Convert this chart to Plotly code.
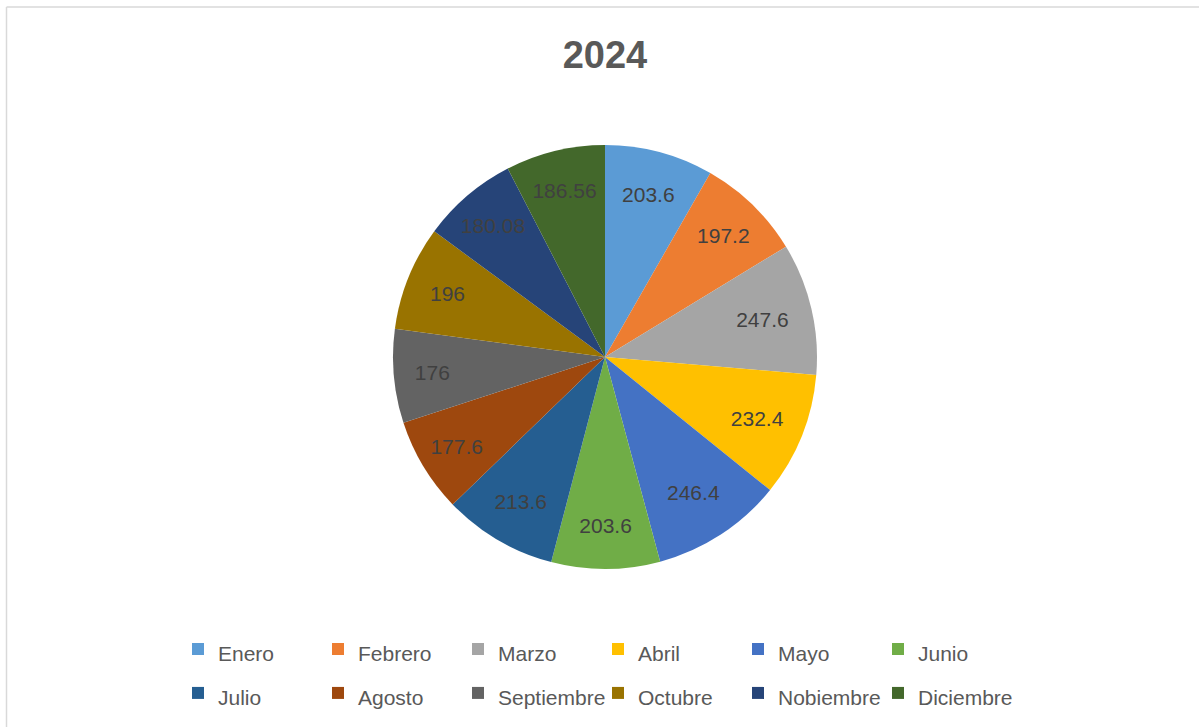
import plotly.graph_objects as go

months = ["Enero", "Febrero", "Marzo", "Abril", "Mayo", "Junio",
          "Julio", "Agosto", "Septiembre", "Octubre", "Nobiembre", "Diciembre"]
values = [203.6, 197.2, 247.6, 232.4, 246.4, 203.6,
          213.6, 177.6, 176, 196, 180.08, 186.56]
colors = ["#5B9BD5", "#ED7D31", "#A5A5A5", "#FFC000", "#4472C4", "#70AD47",
          "#255E91", "#9E480E", "#636363", "#997300", "#264478", "#43682B"]
title_text = "2024"

W, H = 1199, 727
ML, MR = 150, 149
PW = W - ML - MR
cx, cy, r = 605, 357, 212
FONT = "Liberation Sans, Arial, sans-serif"


def px(x):
    return (x - ML) / PW


def py(y):
    return 1 - y / H


# legend labels: text at 21px inside a larger legend font so rows are spaced like the reference
legend_labels = ['<span style="font-size:21px">' + m + '</span>' for m in months]

fig = go.Figure(go.Pie(
    labels=legend_labels,
    values=values,
    sort=False,
    direction="clockwise",
    rotation=0,
    marker=dict(colors=colors, line=dict(width=0)),
    textinfo="value",
    texttemplate="%{value}",
    textposition="inside",
    insidetextorientation="horizontal",
    insidetextfont=dict(family=FONT, size=21, color="#404040"),
    domain=dict(x=[px(cx - r), px(cx + r)], y=[py(cy + r), py(cy - r)]),
    hovertemplate="%{label}: %{value}<extra></extra>",
))

fig.update_layout(
    width=W, height=H,
    margin=dict(l=ML, r=MR, t=0, b=0),
    paper_bgcolor="white",
    plot_bgcolor="white",
    title=dict(text="<b>" + title_text + "</b>", x=605 / W, xanchor="center",
               y=1 - 55 / H, yanchor="middle",
               font=dict(family=FONT, size=38, color="#595959")),
    showlegend=True,
    legend=dict(orientation="h", x=px(178), xanchor="left", y=py(622), yanchor="top",
                entrywidth=95, entrywidthmode="pixels",
                font=dict(family=FONT, size=31.5, color="#595959"),
                bgcolor="rgba(0,0,0,0)", borderwidth=0, traceorder="normal"),
    shapes=[
        dict(type="line", xref="paper", yref="paper", x0=px(6.5), x1=px(W), y0=py(7), y1=py(7),
             line=dict(color="#D9D9D9", width=1.5)),
        dict(type="line", xref="paper", yref="paper", x0=px(6.5), x1=px(6.5), y0=py(H), y1=py(7),
             line=dict(color="#D9D9D9", width=1.5)),
    ],
)

fig.write_html("out.html")
